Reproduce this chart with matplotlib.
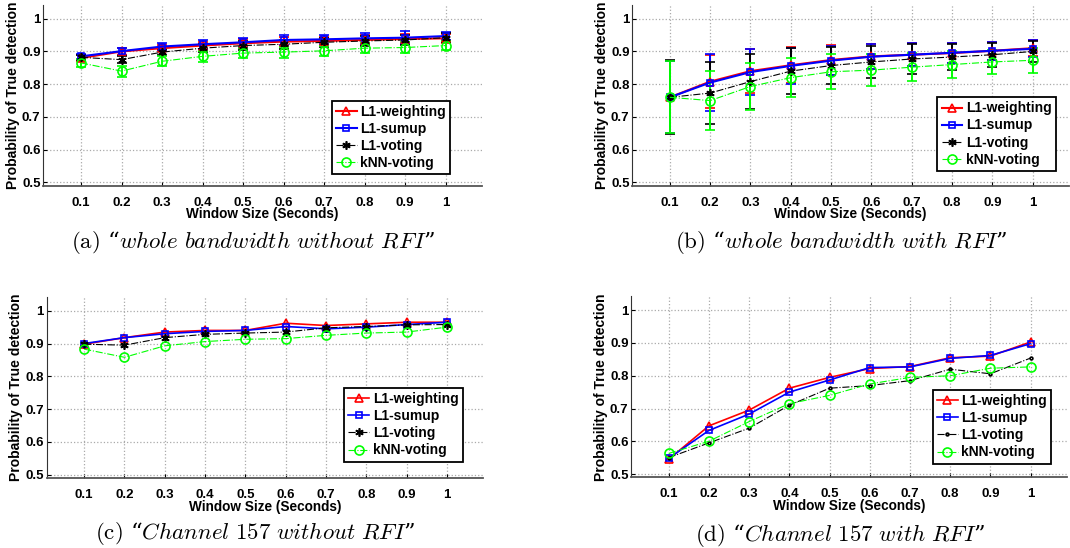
import matplotlib.pyplot as plt
import numpy as np

plt.rcParams['font.family'] = ['Liberation Sans', 'DejaVu Sans']
plt.rcParams['font.weight'] = 'bold'
plt.rcParams['axes.labelweight'] = 'bold'
plt.rcParams['mathtext.fontset'] = 'cm'

# window sizes (seconds) and tick labels
window = [0.1, 0.2, 0.3, 0.4, 0.5, 0.6, 0.7, 0.8, 0.9, 1.0]
x_labels = ['0.1', '0.2', '0.3', '0.4', '0.5', '0.6', '0.7', '0.8', '0.9', '1']
y_ticks = [0.5, 0.6, 0.7, 0.8, 0.9, 1.0]
y_labels = ['0.5', '0.6', '0.7', '0.8', '0.9', '1']
names = ['L1-weighting', 'L1-sumup', 'L1-voting', 'kNN-voting']

# (a) whole bandwidth without RFI
a_weight = [0.880, 0.900, 0.910, 0.918, 0.925, 0.930, 0.932, 0.935, 0.938, 0.940]
a_sumup = [0.885, 0.901, 0.915, 0.922, 0.928, 0.935, 0.937, 0.940, 0.942, 0.947]
a_voting = [0.882, 0.875, 0.898, 0.910, 0.918, 0.922, 0.928, 0.932, 0.935, 0.942]
a_knn = [0.865, 0.840, 0.870, 0.885, 0.895, 0.898, 0.902, 0.910, 0.912, 0.918]
a_err_weight = [0.008, 0.010, 0.010, 0.012, 0.013, 0.013, 0.013, 0.014, 0.016, 0.013]
a_err_sumup = [0.008, 0.011, 0.011, 0.013, 0.014, 0.015, 0.014, 0.016, 0.020, 0.013]
a_err_voting = [0.008, 0.010, 0.010, 0.012, 0.013, 0.013, 0.013, 0.014, 0.016, 0.013]
a_err_knn = [0.012, 0.017, 0.015, 0.016, 0.016, 0.017, 0.015, 0.016, 0.017, 0.015]

# (b) whole bandwidth with RFI
b_weight = [0.760, 0.808, 0.840, 0.858, 0.874, 0.885, 0.890, 0.895, 0.902, 0.910]
b_sumup = [0.760, 0.805, 0.837, 0.856, 0.872, 0.884, 0.890, 0.896, 0.902, 0.908]
b_voting = [0.760, 0.773, 0.808, 0.840, 0.857, 0.868, 0.877, 0.883, 0.890, 0.900]
b_knn = [0.760, 0.750, 0.793, 0.820, 0.838, 0.843, 0.852, 0.860, 0.868, 0.873]
b_err_weight = [0.110, 0.082, 0.068, 0.055, 0.045, 0.038, 0.035, 0.030, 0.027, 0.025]
b_err_sumup = [0.110, 0.087, 0.070, 0.056, 0.045, 0.038, 0.035, 0.030, 0.027, 0.026]
b_err_voting = [0.113, 0.094, 0.083, 0.070, 0.056, 0.050, 0.045, 0.040, 0.037, 0.033]
b_err_knn = [0.110, 0.090, 0.073, 0.060, 0.053, 0.048, 0.043, 0.041, 0.037, 0.038]

# (c) Channel 157 without RFI
c_weight = [0.898, 0.918, 0.935, 0.940, 0.940, 0.962, 0.955, 0.960, 0.965, 0.965]
c_sumup = [0.900, 0.918, 0.930, 0.937, 0.940, 0.952, 0.945, 0.950, 0.958, 0.965]
c_voting = [0.898, 0.895, 0.918, 0.928, 0.932, 0.935, 0.948, 0.952, 0.957, 0.958]
c_knn = [0.883, 0.858, 0.893, 0.906, 0.913, 0.915, 0.925, 0.932, 0.935, 0.950]

# (d) Channel 157 with RFI
d_weight = [0.545, 0.647, 0.695, 0.762, 0.795, 0.822, 0.828, 0.855, 0.860, 0.903]
d_sumup = [0.548, 0.633, 0.683, 0.750, 0.787, 0.825, 0.827, 0.853, 0.862, 0.898]
d_voting = [0.550, 0.595, 0.640, 0.710, 0.762, 0.770, 0.785, 0.820, 0.806, 0.854]
d_knn = [0.563, 0.600, 0.660, 0.715, 0.740, 0.775, 0.795, 0.800, 0.823, 0.827]

captions = [
    ('(a)', 'whole\\ bandwidth\\ without\\ RFI'),
    ('(b)', 'whole\\ bandwidth\\ with\\ RFI'),
    ('(c)', 'Channel\\ 157\\ without\\ RFI'),
    ('(d)', 'Channel\\ 157\\ with\\ RFI'),
]

colors = ['red', 'blue', 'black', '#00ff00']
lstyles = ['-', '-', '-.', '-.']
asterisk = (6, 2, 0)

fig = plt.figure(figsize=(10.7, 5.48), dpi=100)

# axes rectangles in figure fraction
rects = [[0.0405, 0.661, 0.410, 0.330],
         [0.591, 0.661, 0.408, 0.330],
         [0.0436, 0.128, 0.408, 0.330],
         [0.590, 0.129, 0.407, 0.330]]
# legend anchor (right, bottom) in axes fraction
leg_pos = [(0.927, 0.065), (0.970, 0.083), (0.953, 0.09), (0.964, 0.076)]
# caption centers in figure fraction
cap_pos = [(0.236, 0.557), (0.786, 0.557), (0.238, 0.026), (0.785, 0.022)]

panels = [
    ([a_weight, a_sumup, a_voting, a_knn], [a_err_weight, a_err_sumup, a_err_voting, a_err_knn]),
    ([b_weight, b_sumup, b_voting, b_knn], [b_err_weight, b_err_sumup, b_err_voting, b_err_knn]),
    ([c_weight, c_sumup, c_voting, c_knn], None),
    ([d_weight, d_sumup, d_voting, d_knn], None),
]

for i, (series, errs) in enumerate(panels):
    ax = fig.add_axes(rects[i])
    markers = ['^', 's', asterisk, 'o']
    if i == 3:
        markers = ['^', 's', '.', 'o']
    sizes = [6, 5, 6, 6.5] if i < 3 else [6, 5, 4, 6.5]
    handles = []
    for j in range(4):
        if j < 2:
            lw = 1.5 if errs is not None else 1.2
        else:
            lw = 0.8
        if errs is not None:
            cont = ax.errorbar(window, series[j], yerr=errs[j], color=colors[j],
                               ls=lstyles[j], lw=lw, marker=markers[j], ms=sizes[j],
                               mfc='none', mew=1.2, capsize=3.5, elinewidth=1.4,
                               capthick=1.4)
            handles.append(cont.lines[0])
        else:
            line, = ax.plot(window, series[j], color=colors[j], ls=lstyles[j],
                            lw=lw, marker=markers[j], ms=sizes[j], mfc='none',
                            mew=1.2)
            handles.append(line)

    ax.set_xlim(0.007, 1.09)
    ax.set_ylim(0.49, 1.042)
    ax.set_xticks(window, x_labels)
    ax.set_yticks(y_ticks, y_labels)
    ax.tick_params(direction='in', length=3, labelsize=9.5)
    ax.tick_params(axis='x', pad=8)
    ax.tick_params(axis='y', pad=2)
    ax.grid(True, ls=':', color='#aaaaaa', lw=0.9)
    ax.spines['top'].set_visible(False)
    ax.spines['right'].set_visible(False)
    ax.spines['left'].set_color('#333333')
    ax.spines['bottom'].set_color('#555555')
    ax.spines['bottom'].set_linewidth(1.3)
    ax.set_xlabel('Window Size (Seconds)', fontsize=9.8, labelpad=-1)
    ax.set_ylabel('Probability of True detection', fontsize=10, labelpad=1.5)

    leg = ax.legend(handles, names, loc='lower right', bbox_to_anchor=leg_pos[i],
                    borderaxespad=0, fancybox=False, edgecolor='black',
                    framealpha=1, fontsize=10, handlelength=1.5,
                    handletextpad=0.25, labelspacing=0.22, borderpad=0.3)
    leg.get_frame().set_linewidth(1.3)

    tag, words = captions[i]
    fig.text(cap_pos[i][0], cap_pos[i][1],
             '$\\mathrm{' + tag + '}$ \u201c$\\mathit{' + words + '}$\u201d',
             ha='center', va='center', fontsize=16.5,
             family=['DejaVu Serif'], weight='normal')

fig.savefig('out.png', dpi=100)
